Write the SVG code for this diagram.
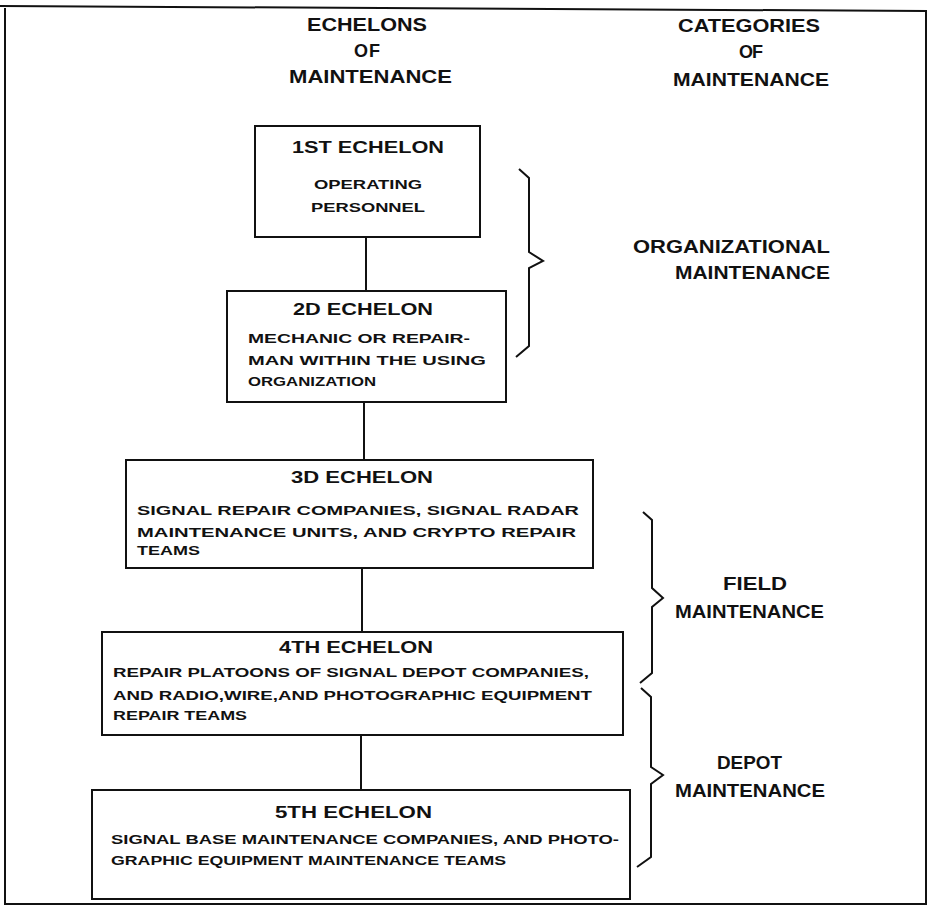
<svg xmlns="http://www.w3.org/2000/svg" width="929" height="906" viewBox="0 0 929 906">
<style>
text{font-family:"Liberation Sans",Arial,sans-serif;font-weight:bold;fill:#111}
.h{font-size:18px}
.t{font-size:17px}
.b{font-size:13px}
.box{fill:#fff;stroke:#111;stroke-width:2}
.ln{stroke:#111;stroke-width:2;fill:none}
</style>
<rect width="929" height="906" fill="#fff"/>
<path class="ln" d="M0,6 L926,11 L926,904 L5,904 L5,8"/>
<g id="headers">
<text class="h" x="307" y="31" textLength="120" lengthAdjust="spacingAndGlyphs">ECHELONS</text>
<text class="h" x="354" y="57" textLength="26" lengthAdjust="spacing">OF</text>
<text class="h" x="289" y="83" textLength="163" lengthAdjust="spacingAndGlyphs">MAINTENANCE</text>
<text class="h" x="678" y="32" textLength="142" lengthAdjust="spacingAndGlyphs">CATEGORIES</text>
<text class="h" x="739" y="58" textLength="24" lengthAdjust="spacing">OF</text>
<text class="h" x="673" y="86" textLength="156" lengthAdjust="spacingAndGlyphs">MAINTENANCE</text>
</g>
<g id="connectors">
<line class="ln" x1="366" y1="237" x2="366" y2="291"/>
<line class="ln" x1="364" y1="402" x2="364" y2="460"/>
<line class="ln" x1="362" y1="568" x2="362" y2="632"/>
<line class="ln" x1="361" y1="735" x2="361" y2="790"/>
</g>
<g id="echelon1">
<rect class="box" x="255" y="126" width="225" height="111"/>
<text class="t" x="292" y="153" textLength="152" lengthAdjust="spacingAndGlyphs">1ST ECHELON</text>
<text class="b" x="314" y="189" textLength="108" lengthAdjust="spacingAndGlyphs">OPERATING</text>
<text class="b" x="311" y="212" textLength="114" lengthAdjust="spacingAndGlyphs">PERSONNEL</text>
</g>
<g id="echelon2">
<rect class="box" x="227" y="291" width="279" height="111"/>
<text class="t" x="293" y="315" textLength="140" lengthAdjust="spacingAndGlyphs">2D ECHELON</text>
<text class="b" x="248" y="343" textLength="222" lengthAdjust="spacingAndGlyphs">MECHANIC OR REPAIR-</text>
<text class="b" x="248" y="365" textLength="238" lengthAdjust="spacingAndGlyphs">MAN WITHIN THE USING</text>
<text class="b" x="248" y="386" textLength="128" lengthAdjust="spacingAndGlyphs">ORGANIZATION</text>
</g>
<g id="echelon3">
<rect class="box" x="126" y="460" width="467" height="108"/>
<text class="t" x="291" y="483" textLength="142" lengthAdjust="spacingAndGlyphs">3D ECHELON</text>
<text class="b" x="137" y="515" textLength="442" lengthAdjust="spacingAndGlyphs">SIGNAL REPAIR COMPANIES, SIGNAL  RADAR</text>
<text class="b" x="137" y="537" textLength="439" lengthAdjust="spacingAndGlyphs">MAINTENANCE UNITS, AND CRYPTO REPAIR</text>
<text class="b" x="137" y="555" textLength="63" lengthAdjust="spacingAndGlyphs">TEAMS</text>
</g>
<g id="echelon4">
<rect class="box" x="102" y="632" width="521" height="103"/>
<text class="t" x="279" y="653" textLength="154" lengthAdjust="spacingAndGlyphs">4TH ECHELON</text>
<text class="b" x="113" y="677" textLength="476" lengthAdjust="spacingAndGlyphs">REPAIR PLATOONS OF SIGNAL DEPOT COMPANIES,</text>
<text class="b" x="113" y="700" textLength="479" lengthAdjust="spacingAndGlyphs">AND RADIO,WIRE,AND PHOTOGRAPHIC EQUIPMENT</text>
<text class="b" x="113" y="720" textLength="134" lengthAdjust="spacingAndGlyphs">REPAIR TEAMS</text>
</g>
<g id="echelon5">
<rect class="box" x="92" y="790" width="538" height="109"/>
<text class="t" x="275" y="818" textLength="157" lengthAdjust="spacingAndGlyphs">5TH ECHELON</text>
<text class="b" x="111" y="844" textLength="508" lengthAdjust="spacingAndGlyphs">SIGNAL BASE MAINTENANCE COMPANIES, AND PHOTO-</text>
<text class="b" x="111" y="865" textLength="395" lengthAdjust="spacingAndGlyphs">GRAPHIC EQUIPMENT MAINTENANCE TEAMS</text>
</g>
<g id="organizational">
<path class="ln" d="M519,169 L529,178 L529,252 L543,261 L529,268 L529,346 L516,357"/>
<text class="h" x="633" y="253" textLength="197" lengthAdjust="spacingAndGlyphs">ORGANIZATIONAL</text>
<text class="h" x="675" y="279" textLength="155" lengthAdjust="spacingAndGlyphs">MAINTENANCE</text>
</g>
<g id="field">
<path class="ln" d="M643,512 L652,520 L652,588 L663,598 L652,607 L652,673 L640,683"/>
<text class="h" x="723" y="590" textLength="64" lengthAdjust="spacingAndGlyphs">FIELD</text>
<text class="h" x="675" y="618" textLength="149" lengthAdjust="spacingAndGlyphs">MAINTENANCE</text>
</g>
<g id="depot">
<path class="ln" d="M641,688 L651,697 L651,767 L663,775 L651,784 L651,857 L637,867"/>
<text class="h" x="717" y="769" textLength="65" lengthAdjust="spacingAndGlyphs">DEPOT</text>
<text class="h" x="675" y="797" textLength="150" lengthAdjust="spacingAndGlyphs">MAINTENANCE</text>
</g>
</svg>
